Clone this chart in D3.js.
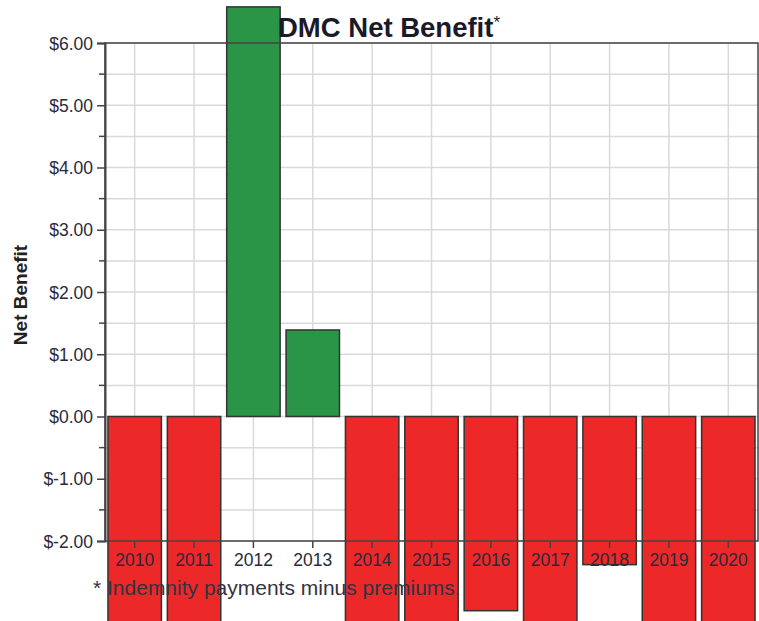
<html>
<meta charset="utf-8">
<script src="https://d3js.org/d3.v7.min.js"></script>
<style>
  body { margin: 0; background: #fff; }
</style>
<div id="chart"></div>
<script>
let width = 759,
    height = 621

let years = ["2010", "2011", "2012", "2013", "2014", "2015", "2016", "2017", "2018", "2019", "2020"]
let netBenefit = [-3.6, -3.6, 6.58, 1.39, -3.6, -3.6, -3.12, -3.6, -2.38, -3.6, -3.6]
let yTicks = [6, 5, 4, 3, 2, 1, 0, -1, -2]

let plot = {left: 105, right: 758, top: 43, bottom: 541}

let svg = d3.select("#chart")
  .append("svg")
    .attr("width", width)
    .attr("height", height)
    .style("font-family", "Liberation Sans, Arial, sans-serif")

let x = d3.scaleBand()
  .domain(years)
  .range([plot.left, plot.right])
  .paddingInner(0.1)
  .paddingOuter(0.05)

let y = d3.scaleLinear()
  .domain([-2, 6])
  .range([plot.bottom, plot.top])

// grid, every half dollar and at each year
let halfTicks = d3.range(-2, 6.01, 0.5)
svg.append("g")
  .selectAll("line")
  .data(halfTicks)
  .join("line")
    .attr("x1", plot.left).attr("x2", plot.right)
    .attr("y1", d => y(d)).attr("y2", d => y(d))
    .attr("stroke", "#d9d9d9")
    .attr("stroke-width", 1.5)

svg.append("g")
  .selectAll("line")
  .data(years)
  .join("line")
    .attr("x1", d => x(d) + x.bandwidth() / 2)
    .attr("x2", d => x(d) + x.bandwidth() / 2)
    .attr("y1", plot.top).attr("y2", plot.bottom)
    .attr("stroke", "#d9d9d9")
    .attr("stroke-width", 1.5)

// bars (they run past the plot frame, as in the original)
svg.append("g")
  .selectAll("rect")
  .data(years)
  .join("rect")
    .attr("x", d => x(d))
    .attr("width", x.bandwidth())
    .attr("y", (d, i) => y(Math.max(0, netBenefit[i])))
    .attr("height", (d, i) => Math.abs(y(netBenefit[i]) - y(0)))
    .attr("fill", (d, i) => netBenefit[i] >= 0 ? "#2a9547" : "#ec2828")
    .attr("stroke", "#333")
    .attr("stroke-width", 1.5)

// frame
svg.append("rect")
  .attr("x", plot.left)
  .attr("y", plot.top)
  .attr("width", plot.right - plot.left)
  .attr("height", plot.bottom - plot.top)
  .attr("fill", "none")
  .attr("stroke", "#444")
  .attr("stroke-width", 1.5)

// y axis
let yAxis = svg.append("g")
  .attr("transform", "translate(" + plot.left + ",0)")
  .call(d3.axisLeft(y)
    .tickValues(yTicks)
    .tickSize(8)
    .tickPadding(4)
    .tickFormat(d => "$" + d.toFixed(2)))
yAxis.select(".domain").attr("stroke", "#444").attr("stroke-width", 2)
yAxis.selectAll(".tick line").attr("stroke", "#444").attr("stroke-width", 1.5)
yAxis.selectAll("text")
  .attr("font-size", 17.5)
  .attr("font-family", "Liberation Sans, Arial, sans-serif")
  .attr("fill", "#2a2a3a")
  .attr("dy", "0.35em")

svg.append("g")
  .selectAll("line")
  .data(halfTicks.filter(d => d % 1 !== 0))
  .join("line")
    .attr("x1", plot.left - 6).attr("x2", plot.left)
    .attr("y1", d => y(d)).attr("y2", d => y(d))
    .attr("stroke", "#444")
    .attr("stroke-width", 1.5)

// x axis
let xAxis = svg.append("g")
  .attr("transform", "translate(0," + plot.bottom + ")")
  .call(d3.axisBottom(x).tickSize(7).tickPadding(6))
xAxis.select(".domain").remove()
xAxis.selectAll(".tick line").attr("stroke", "#444").attr("stroke-width", 1.5)
xAxis.selectAll("text")
  .attr("font-size", 17.5)
  .attr("font-family", "Liberation Sans, Arial, sans-serif")
  .attr("fill", "#2a2a3a")

// titles
svg.append("text")
  .attr("x", 278)
  .attr("y", 37)
  .attr("font-size", 27.5)
  .attr("font-weight", "bold")
  .attr("fill", "#1a1a2a")
  .text("DMC Net Benefit")
  .append("tspan")
    .attr("font-size", 17)
    .attr("font-weight", "normal")
    .attr("dy", -9)
    .text("*")

svg.append("text")
  .attr("transform", "translate(27,295) rotate(-90)")
  .attr("text-anchor", "middle")
  .attr("font-size", 19)
  .attr("font-weight", "bold")
  .attr("fill", "#222")
  .text("Net Benefit")

svg.append("text")
  .attr("x", 93)
  .attr("y", 595)
  .attr("font-size", 21)
  .attr("fill", "#333344")
  .text("* Indemnity payments minus premiums.")
</script>
</html>
